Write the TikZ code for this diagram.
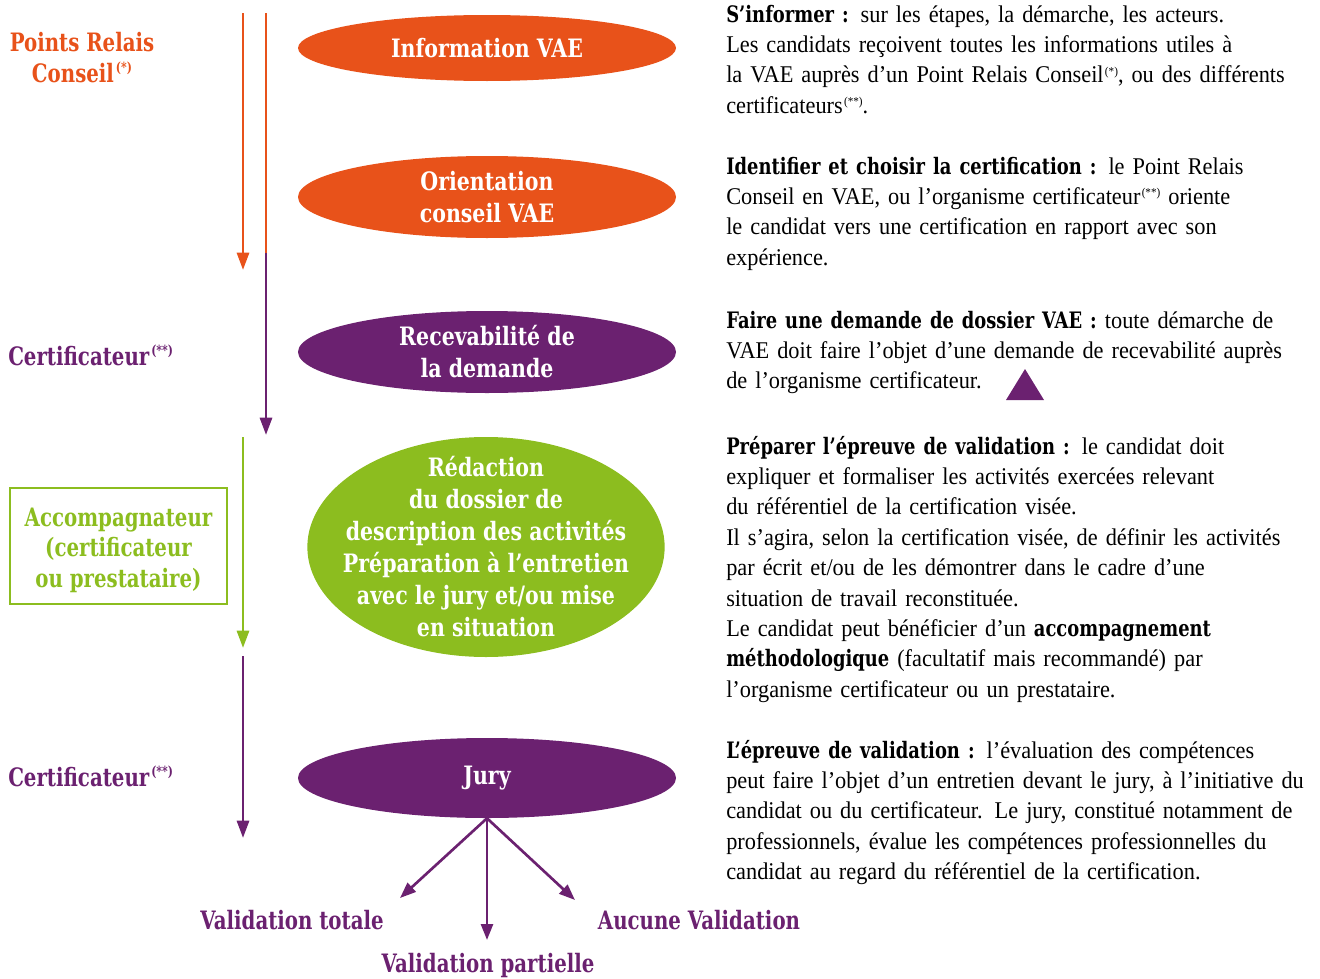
\documentclass[tikz,border=0pt]{standalone}
\usepackage{fontspec}
\setmainfont{Liberation Serif}[FakeStretch=0.93,WordSpace=0.72]
\newfontfamily\slabfont{DejaVu Serif}[FakeStretch=0.78]
\newfontfamily\ellfont{DejaVu Serif}[FakeStretch=0.81]
\newfontfamily\headfont{DejaVu Serif}[FakeStretch=0.79,WordSpace=0.8]
\usetikzlibrary{shapes.geometric,arrows.meta}
\definecolor{vorange}{HTML}{E8521A}
\definecolor{vpurple}{HTML}{6B2170}
\definecolor{vgreen}{HTML}{8CBD1F}
\newcommand{\supmark}[1]{\kern1pt\raisebox{0.7ex}{\fontsize{9}{9}\selectfont #1}}
\newcommand{\lsupmark}[1]{\kern1.5pt\raisebox{0.75ex}{\fontsize{10.5}{10.5}\selectfont #1}}
\newcommand{\hd}[1]{{\headfont\bfseries\fontsize{17}{22.8}\selectfont #1}}
\begin{document}
\begin{tikzpicture}[x=0.75pt,y=-0.75pt,
  ellshape/.style={ellipse, inner sep=0pt, minimum width=283.5pt},
  elltext/.style={text=white, align=center, inner sep=0pt,
    font=\ellfont\bfseries\fontsize{19}{24}\selectfont},
  side/.style={font=\slabfont\bfseries\fontsize{19}{22.9}\selectfont, align=center, inner sep=0pt},
  body/.style={font=\fontsize{18}{22.8}\selectfont, text width=470pt, align=left,
    inner sep=0pt, anchor=base west},
  flow/.style={line width=2.2pt, -{Triangle[length=13pt,width=9pt]}},
  res/.style={line width=2pt, -{Triangle[length=12pt,width=9pt]}},
]
\useasboundingbox (0,0) rectangle (1320,978);

% ellipses
\node[ellshape, fill=vorange, minimum height=49.5pt] (info) at (487,48) {};
\node[elltext] (infoT) at (info.center) {Information VAE};
\node[ellshape, fill=vorange, minimum height=61.5pt] (orient) at (487,197) {};
\node[elltext] (orientT) at (orient.center) {Orientation\\conseil VAE};
\node[ellshape, fill=vpurple, minimum height=61.5pt] (recev) at (487,352) {};
\node[elltext] (recevT) at (recev.center) {Recevabilité de\\la demande};
\node[ellshape, fill=vgreen, minimum width=268pt, minimum height=165pt] (redac) at (486,547) {};
\node[elltext] (redacT) at (redac.center)
  {Rédaction\\du dossier de\\description des activités\\Préparation à l’entretien\\avec le jury et/ou mise\\en situation};
\node[ellshape, fill=vpurple, minimum height=60pt] (jury) at (487,778) {};
\node[elltext] (juryT) at (jury.center) {Jury};

% left labels
\node[side, text=vorange, anchor=base] (prc) at (82,82) {Points Relais\\Conseil\lsupmark{(*)}};
\node[side, text=vpurple, anchor=base west] (cert1) at (8,365) {Certificateur\lsupmark{(**)}};
\node[side, text=vgreen, draw=vgreen, line width=1.6pt, minimum width=162.75pt, minimum height=87pt] (acc) at (118.5,546) {};
\node[side, text=vgreen] (accT) at (118.5,550) {Accompagnateur\\(certificateur\\ou prestataire)};
\node[side, text=vpurple, anchor=base west] (cert2) at (8,786) {Certificateur\lsupmark{(**)}};

% vertical arrows
\coordinate (a1s) at (243,13); \coordinate (a1e) at (243,270);
\coordinate (a2s) at (266,13); \coordinate (a2m) at (266,253); \coordinate (a2e) at (266,435);
\coordinate (a3s) at (243,437); \coordinate (a3e) at (243,648);
\coordinate (a4s) at (243,656); \coordinate (a4e) at (243,838);
\draw[flow, vorange] (a1s) -- (a1e);
\draw[line width=2.2pt, vorange] (a2s) -- (a2m);
\draw[flow, vpurple] (a2m) -- (a2e);
\draw[flow, vgreen] (a3s) -- (a3e);
\draw[flow, vpurple] (a4s) -- (a4e);

% results
\coordinate (tvt) at (400,898);
\coordinate (tvp) at (487,940);
\coordinate (tav) at (575,900);
\draw[res, vpurple] (jury.south) -- (tvt);
\draw[res, vpurple] (jury.south) -- (tvp);
\draw[res, vpurple] (jury.south) -- (tav);
\node[side, text=vpurple, anchor=base] (vt) at (292,929) {Validation totale};
\node[side, text=vpurple, anchor=base] (vp) at (488,972) {Validation partielle};
\node[side, text=vpurple, anchor=base] (av) at (699,929) {Aucune Validation};

% right text
\node[body] (t1) at (726,22) {\hd{S’informer :} sur les étapes, la démarche, les acteurs.\\
Les candidats reçoivent toutes les informations utiles à\\
la VAE auprès d’un Point Relais Conseil\supmark{(*)}, ou des différents\\
certificateurs\supmark{(**)}.};
\node[body] (t2) at (726,174) {\hd{Identifier et choisir la certification :} le Point Relais\\
Conseil en VAE, ou l’organisme certificateur\supmark{(**)} oriente\\
le candidat vers une certification en rapport avec son\\
expérience.};
\node[body] (t3) at (726,328) {\hd{Faire une demande de dossier VAE :} toute démarche de\\
VAE doit faire l’objet d’une demande de recevabilité auprès\\
de l’organisme certificateur.};
\node[body] (t4) at (726,454) {\hd{Préparer l’épreuve de validation :} le candidat doit\\
expliquer et formaliser les activités exercées relevant\\
du référentiel de la certification visée.\\
Il s’agira, selon la certification visée, de définir les activités\\
par écrit et/ou de les démontrer dans le cadre d’une\\
situation de travail reconstituée.\\
Le candidat peut bénéficier d’un \hd{accompagnement}\\
\hd{méthodologique} (facultatif mais recommandé) par\\
l’organisme certificateur ou un prestataire.};
\node[body] (t5) at (726,758) {\hd{L’épreuve de validation :} l’évaluation des compétences\\
peut faire l’objet d’un entretien devant le jury, à l’initiative du\\
candidat ou du certificateur. Le jury, constitué notamment de\\
professionnels, évalue les compétences professionnelles du\\
candidat au regard du référentiel de la certification.};

\fill[vpurple] (1006,400) -- (1025,369) -- (1044,400) -- cycle;
\end{tikzpicture}
\end{document}
